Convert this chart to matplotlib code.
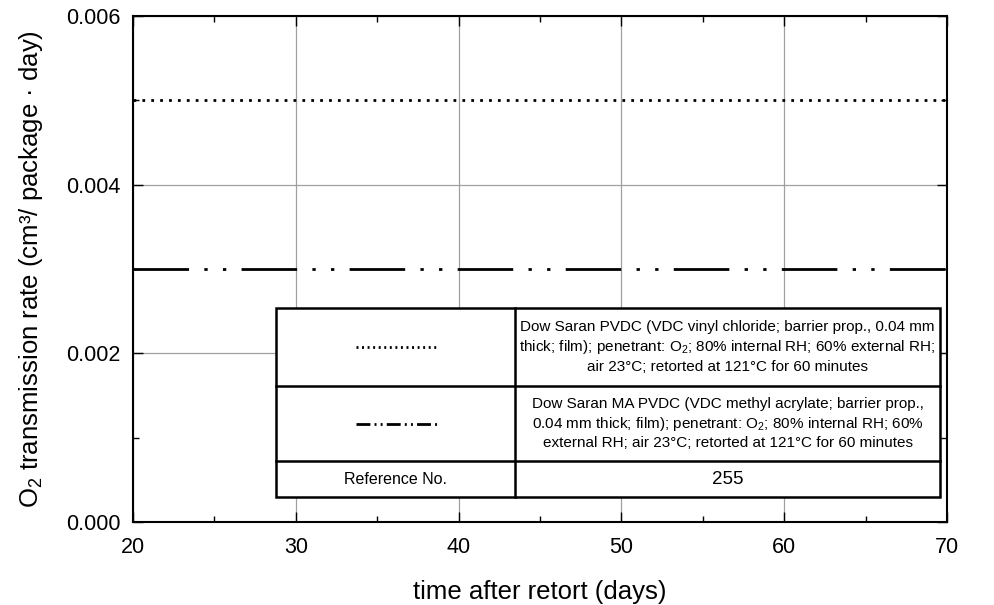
import matplotlib.pyplot as plt
from matplotlib.lines import Line2D
from matplotlib.patches import Rectangle
from matplotlib.ticker import MultipleLocator

plt.rcParams['font.family'] = ['Liberation Sans', 'DejaVu Sans']
plt.rcParams['mathtext.fontset'] = 'custom'
plt.rcParams['mathtext.rm'] = 'Liberation Sans'
plt.rcParams['mathtext.it'] = 'Liberation Sans:italic'

# data
days = [20, 70]
pvdc = [0.005, 0.005]        # Dow Saran PVDC (dotted)
ma_pvdc = [0.003, 0.003]     # Dow Saran MA PVDC (dash-dot-dot)
labels = [
    "Dow Saran PVDC (VDC vinyl chloride; barrier prop., 0.04 mm\n"
    "thick; film); penetrant: O$_\\mathrm{2}$; 80% internal RH; 60% external RH;\n"
    "air 23°C; retorted at 121°C for 60 minutes",
    "Dow Saran MA PVDC (VDC methyl acrylate; barrier prop.,\n"
    "0.04 mm thick; film); penetrant: O$_\\mathrm{2}$; 80% internal RH; 60%\n"
    "external RH; air 23°C; retorted at 121°C for 60 minutes",
]
ref_no = "255"

dotted = (0, (1.0, 2.2))
dashdotdot = (0, (20, 5.5, 1.2, 5.5, 1.2, 5.5))
dotted_key = (0, (0.7, 1.3))
dashdotdot_key = (0, (5, 1.5, 0.7, 1.5, 0.7, 1.5))

fig = plt.figure(figsize=(9.94, 6.05), dpi=100)
ax = fig.add_axes([133/994, 1 - 522/605, 814/994, 506/605])

ax.plot(days, pvdc, color='black', lw=2, linestyle=dotted, zorder=3)
ax.plot(days, ma_pvdc, color='black', lw=2, linestyle=dashdotdot, zorder=3)

ax.set_xlim(20, 70)
ax.set_ylim(0, 0.006)
ax.xaxis.set_major_locator(MultipleLocator(10))
ax.xaxis.set_minor_locator(MultipleLocator(5))
ax.yaxis.set_major_locator(MultipleLocator(0.002))
ax.yaxis.set_minor_locator(MultipleLocator(0.001))
ax.yaxis.set_major_formatter(plt.FormatStrFormatter('%.3f'))
ax.tick_params(which='both', direction='in', top=True, right=True, labelsize=15.5)
ax.tick_params(axis='x', pad=11)
ax.tick_params(axis='y', pad=9)
ax.tick_params(which='major', length=7, width=1)
ax.tick_params(which='minor', length=4, width=1)
ax.grid(True, which='major', color='#a0a0a0', lw=0.9)
for s in ax.spines.values():
    s.set_linewidth(1.5)

ax.set_xlabel("time after retort (days)", fontsize=18.5, labelpad=16)
ax.set_ylabel("O$_\\mathrm{2}$ transmission rate (cm³/ package · day)", fontsize=18.5, labelpad=15)

# legend table
tx0, tx1 = 0.1757, 0.9914
ty1, ty0 = 0.4229, 0.0494
split = tx0 + 0.36 * (tx1 - tx0)
rows = [78, 75, 36]
total = sum(rows)
tr = ax.transAxes
ax.add_patch(Rectangle((tx0, ty0), tx1 - tx0, ty1 - ty0, transform=tr,
                       facecolor='white', edgecolor='black', lw=1.8, zorder=4))
edges = [ty1]
for h in rows:
    edges.append(edges[-1] - h / total * (ty1 - ty0))
for yy in edges[1:-1]:
    ax.add_line(Line2D([tx0, tx1], [yy, yy], transform=tr, color='black', lw=1.8, zorder=5))
ax.add_line(Line2D([split, split], [ty0, ty1], transform=tr, color='black', lw=1.8, zorder=5))

styles = [dotted_key, dashdotdot_key]
sx0 = (356 - 133) / 814
sx1 = (438 - 133) / 814
for i in range(2):
    yc = (edges[i] + edges[i + 1]) / 2
    ax.add_line(Line2D([sx0, sx1], [yc, yc], transform=tr, color='black', lw=2,
                       linestyle=styles[i], zorder=6))
    ax.text((split + tx1) / 2, yc, labels[i], transform=tr, ha='center', va='center',
            fontsize=11, linespacing=1.3, zorder=6)
yc = (edges[2] + edges[3]) / 2
ax.text((tx0 + split) / 2, yc, "Reference No.", transform=tr, ha='center', va='center',
        fontsize=11.5, zorder=6)
ax.text((split + tx1) / 2, yc, ref_no, transform=tr, ha='center', va='center',
        fontsize=13.5, zorder=6)

fig.savefig('out.png', dpi=100)
